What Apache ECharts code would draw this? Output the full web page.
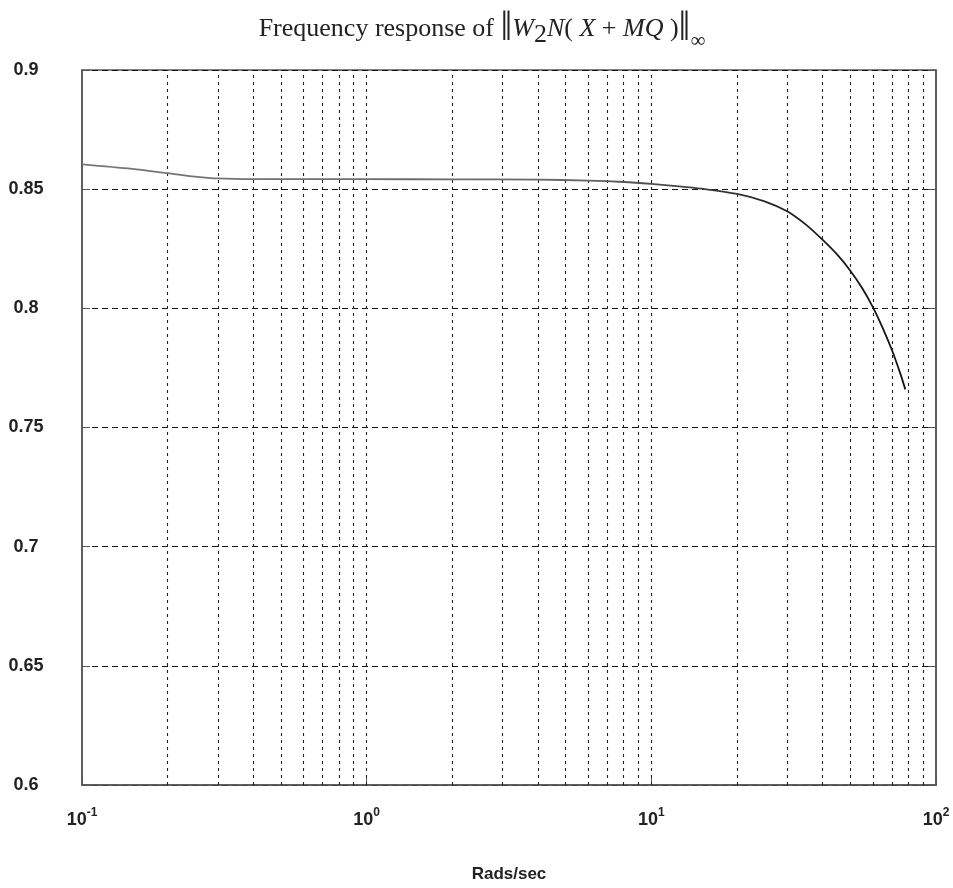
<!DOCTYPE html>
<html>
<head>
<meta charset="utf-8">
<script src="https://cdn.jsdelivr.net/npm/echarts@6/dist/echarts.min.js"></script>
<style>
html,body{margin:0;padding:0;background:#fff;}
#chart{width:953px;height:888px;}
</style>
</head>
<body>
<div id="chart"></div>
<script>
// Frequency (rad/s) and magnitude
const freq = [0.1, 0.15, 0.2, 0.25, 0.3, 0.4, 0.6, 1, 2, 4, 6, 8, 10, 12.5, 15, 20, 25, 30, 35, 40, 45, 50, 55, 60, 65, 70, 75, 78];
const mag  = [0.8604, 0.8585, 0.8567, 0.8553, 0.8545, 0.8542, 0.8542, 0.8542, 0.8541, 0.8540, 0.8536, 0.8530, 0.8522, 0.8512, 0.8502, 0.8480, 0.8449, 0.8407, 0.8350, 0.8287, 0.8225, 0.8158, 0.8085, 0.8005, 0.7917, 0.7825, 0.7725, 0.7660];
// vertical grid lines (log-minor positions)
const gridFreqs = [0.2,0.3,0.4,0.5,0.6,0.7,0.8,0.9,1,2,3,4,5,6,7,8,9,10,20,30,40,50,60,70,80,90];
const yMin = 0.6, yMax = 0.9, yStep = 0.05;
const xMin = 0.1, xMax = 100;
const titleText = 'Frequency response of ';
const xName = 'Rads/sec';

const chart = echarts.init(document.getElementById('chart'), null, {renderer:'canvas'});
const axisColor = '#555';
const option = {
  backgroundColor: '#fff',
  animation: false,
  grid: {left: 82, right: 17, top: 70, bottom: 98, show: true, borderColor: axisColor, borderWidth: 1.5, containLabel: false},
  graphic: [{
    type: 'text', x: 482, y: 29,
    style: {
      text: '{n|' + titleText + '}{b|‖}{i|W}{sub|2}{i|N}{n|( }{i|X}{n| + }{i|MQ}{n| )}{b|‖}{inf|∞}',
      align: 'center', verticalAlign: 'middle',
      rich: {
        n: {fontFamily: 'Liberation Serif', fontSize: 26, fill: '#222', lineHeight: 44},
        i: {fontFamily: 'Liberation Serif', fontSize: 26, fontStyle: 'italic', fill: '#222', lineHeight: 44},
        b: {fontFamily: 'Liberation Serif', fontSize: 42, fill: '#222', lineHeight: 44},
        sub: {fontFamily: 'Liberation Serif', fontSize: 26, fill: '#222', padding: [12, 0, 0, 0]},
        inf: {fontFamily: 'Liberation Serif', fontSize: 21, fill: '#222', padding: [24, 0, 0, 0]}
      }
    }
  }],
  xAxis: {
    type: 'log', logBase: 10, min: xMin, max: xMax,
    name: xName, nameLocation: 'middle', nameGap: 81,
    nameTextStyle: {fontFamily: 'Liberation Sans', fontWeight: 'bold', fontSize: 17, color: '#222'},
    axisLine: {show: true, lineStyle: {color: axisColor, width: 1.5}},
    axisTick: {show: true, inside: true, length: 8, lineStyle: {color: axisColor}},
    splitLine: {show: false},
    axisLabel: {
      margin: 22, color: '#222',
      formatter: function (v) {
        const e = Math.round(Math.log10(v));
        return '{b|10}{s|' + e + '}';
      },
      rich: {
        b: {fontFamily: 'Liberation Sans', fontWeight: 'bold', fontSize: 18, color: '#222'},
        s: {fontFamily: 'Liberation Sans', fontWeight: 'bold', fontSize: 12, color: '#222', padding: [0, 0, 14, 0]}
      }
    }
  },
  yAxis: [{
    type: 'value', min: yMin, max: yMax, interval: yStep,
    axisLine: {show: true, lineStyle: {color: axisColor, width: 1.5}},
    axisTick: {show: true, inside: true, length: 8, lineStyle: {color: axisColor}},
    axisLabel: {margin: 56, align: 'center', fontFamily: 'Liberation Sans', fontWeight: 'bold', fontSize: 18, color: '#222',
      formatter: function (v) { return String(Math.round(v * 100) / 100); }},
    splitLine: {show: true, lineStyle: {color: '#111', type: [6, 4], width: 1.2}}
  }, {
    type: 'value', min: yMin, max: yMax, interval: yStep, position: 'right',
    axisLine: {show: true, lineStyle: {color: axisColor, width: 1.5}},
    axisTick: {show: true, inside: true, length: 8, lineStyle: {color: axisColor}},
    axisLabel: {show: false}, splitLine: {show: false}
  }],
  series: [{
    type: 'line',
    data: freq.map((f, i) => [f, mag[i]]),
    showSymbol: false, smooth: 0.3,
    lineStyle: {
      width: 1.8,
      color: new echarts.graphic.LinearGradient(0, 0, 1, 0, [
        {offset: 0, color: '#777'}, {offset: 0.6, color: '#666'}, {offset: 0.85, color: '#222'}, {offset: 1, color: '#111'}
      ])
    },
    z: 5,
    markLine: {
      silent: true, symbol: ['none', 'none'], label: {show: false},
      lineStyle: {color: '#222', type: [3, 4], width: 1.1},
      data: gridFreqs.map(f => ({xAxis: f}))
    }
  }]
};
chart.setOption(option);
</script>
</body>
</html>
